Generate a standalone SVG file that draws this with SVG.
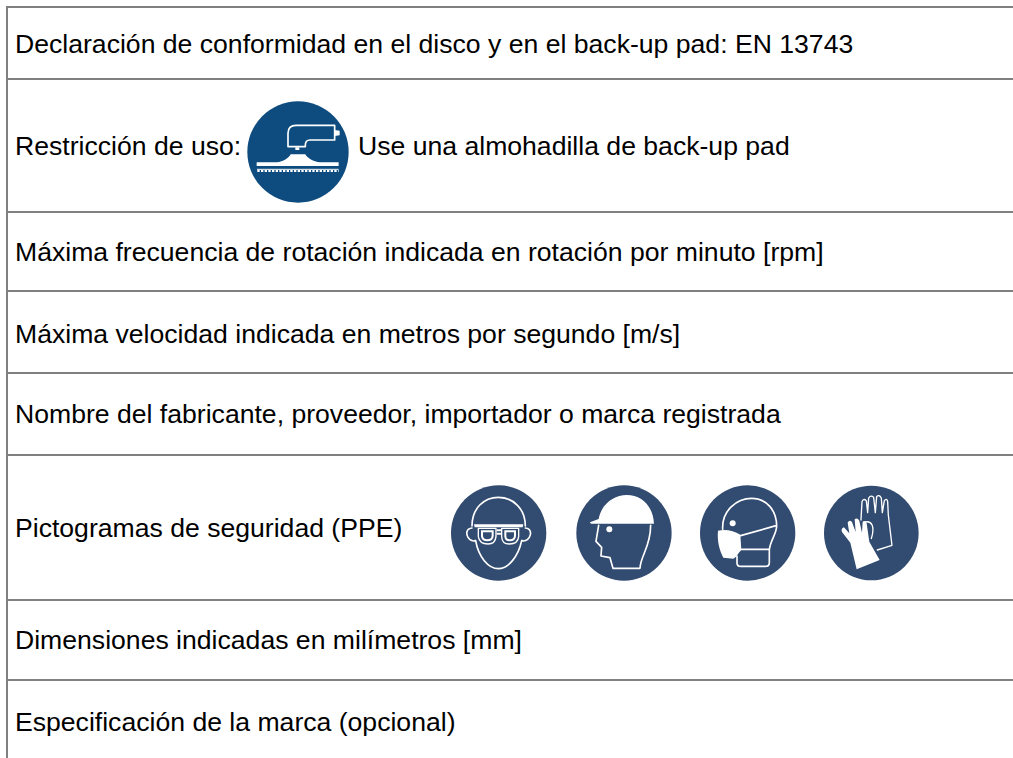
<svg xmlns="http://www.w3.org/2000/svg" width="1013" height="758" viewBox="0 0 1013 758">
<style>
.t{font-family:"Liberation Sans",Arial,sans-serif;font-size:26.6px;fill:#000}
.r{stroke:#808080;stroke-width:2;fill:none}
.w{fill:none;stroke:#fff;stroke-width:5;stroke-linejoin:round;stroke-linecap:round}
.f{fill:#fff}
.p{fill:#324b70}
</style>
<rect width="1013" height="758" fill="#fff"/>
<g id="grid">
<path class="r" d="M7 758V6M6 7H1013M6 79H1013M6 212H1013M6 291H1013M6 373H1013M6 455H1013M6 600H1013M6 680H1013"/>
</g>
<g id="row1"><text class="t" x="15" y="53">Declaración de conformidad en el disco y en el back-up pad: EN 13743</text></g>
<g id="row2">
<text class="t" x="15" y="155">Restricción de uso:</text>
<text class="t" x="358" y="155">Use una almohadilla de back-up pad</text>
<g id="icon-backup" transform="translate(230 90) scale(.3333)">
<circle cx="204" cy="186" r="152" fill="#0e4c7f"/>
<path class="w" d="M174 168V130Q174 106 198 106H314V150H240Q226 150 226 166V170H174Z"/>
<path class="f" d="M314 120L329 122V136L314 138ZM196 172H208V180H196ZM80 217H140C160 215 176 205 182 193H226C232 205 250 215 270 217H326V228H80Z"/>
<path d="M81 238H326" stroke="#fff" stroke-width="3" fill="none"/>
<path d="M82 243H326" stroke="#fff" stroke-width="6" stroke-dasharray="7 4" fill="none"/>
</g>
</g>
<g id="row3"><text class="t" x="15" y="261">Máxima frecuencia de rotación indicada en rotación por minuto [rpm]</text></g>
<g id="row4"><text class="t" x="15" y="343">Máxima velocidad indicada en metros por segundo [m/s]</text></g>
<g id="row5"><text class="t" x="15" y="423">Nombre del fabricante, proveedor, importador o marca registrada</text></g>
<g id="row6">
<text class="t" x="15" y="537">Pictogramas de seguridad (PPE)</text>
<g id="icon-goggles" transform="translate(410 470) scale(.3333)">
<circle class="p" cx="266" cy="189" r="143"/>
<path class="w" d="M186 168C186 115 222 82 265 82C308 82 346 115 346 168M197 212C205 260 235 296 265 296C295 296 325 260 335 212M186 174C168 176 168 192 174 202C180 212 190 214 196 212M346 174C364 176 364 192 358 202C352 212 342 214 336 212"/>
<path class="f" d="M192 163L340 163L338 172L194 172Z"/>
<path class="w" style="stroke-width:4" d="M205 175H258V200Q256 222 234 222Q208 222 205 200ZM275 175H326V200Q324 222 298 222Q276 222 275 200Z"/>
<path class="f" d="M213 181H251V198Q250 214 232 214Q214 214 213 198ZM283 181H318V198Q317 214 299 214Q283 214 283 198Z"/>
<path class="p" d="M219 187H245V198Q244 208 232 208Q220 208 219 198ZM289 187H312V198Q311 208 299 208Q289 208 289 198Z"/>
<path class="f" d="M260 178H274V184H260ZM260 188H274V194H260Z"/>
</g>
<g id="icon-helmet" transform="translate(410 470) scale(.3333)">
<circle class="p" cx="642" cy="189" r="143"/>
<path class="f" d="M540 157L566 147C574 102 612 75 650 75C698 75 730 112 732 161H545Q540 161 540 157Z"/>
<circle class="f" cx="598" cy="178" r="9"/>
<path class="w" d="M566 166L558 214L575 232L573 258L600 263L609 295H690C692 255 722 232 722 166"/>
</g>
<g id="icon-mask" transform="translate(680 470) scale(.3333)">
<circle class="p" cx="203" cy="189" r="143"/>
<path class="w" d="M128 178C125 122 170 85 215 85C260 85 290 122 290 168C290 192 270 212 268 240V278Q268 289 256 289H182Q171 289 171 278V258M182 197L288 167M182 238H266"/>
<circle class="f" cx="158" cy="160" r="9"/>
<path class="f" d="M114 182C136 177 162 182 181 194L184 240C172 252 170 262 160 266L130 263C118 240 111 212 114 182Z"/>
</g>
<g id="icon-gloves" transform="translate(680 470) scale(.3333)">
<circle class="p" cx="574" cy="189" r="142"/>
<path class="w" style="stroke-width:4" d="M543 150L546 95Q550 84 559 92L563 128L566 84Q572 74 581 82L586 128L590 80Q597 72 604 84L607 128L613 92Q620 83 623 94L625 135L636 226L592 240M556 156C574 152 586 168 574 206"/>
<path class="f" d="M530 298L511 218L486 186Q482 176 492 172L508 190L503 158Q508 148 516 156L527 186L524 148Q532 142 538 152L546 188L548 155Q556 150 560 160L568 215L599 270Z"/>
</g>
</g>
<g id="row7"><text class="t" x="15" y="649">Dimensiones indicadas en milímetros [mm]</text></g>
<g id="row8"><text class="t" x="15" y="731">Especificación de la marca (opcional)</text></g>
</svg>
